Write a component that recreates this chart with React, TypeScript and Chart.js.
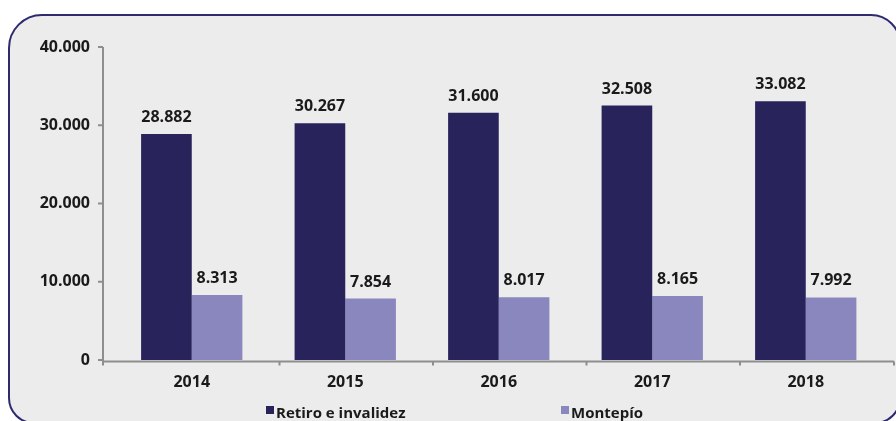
import React, { useEffect, useRef } from "react";
import { Chart, registerables } from "chart.js";

Chart.register(...registerables);

const categories = ["2014", "2015", "2016", "2017", "2018"];
const retiroValues = [28882, 30267, 31600, 32508, 33082];
const montepioValues = [8313, 7854, 8017, 8165, 7992];
const seriesNames = ["Retiro e invalidez", "Montepío"];
const seriesColors = ["#29235C", "#8A86BE"];
const yTickValues = [0, 10000, 20000, 30000, 40000];

const FONT = "'Open Sans', 'Noto Sans', sans-serif";

function fmt(v: number): string {
  return String(Math.round(v)).replace(/\B(?=(\d{3})+(?!\d))/g, ".");
}

const axisPlugin = {
  id: "customAxes",
  beforeDatasetsDraw(chart: any) {
    const { ctx, chartArea, scales } = chart;
    const x = scales.x;
    const y = scales.y;
    const axisX = chartArea.left - 12;
    const axisRight = chartArea.right + 11.5;
    const zeroY = y.getPixelForValue(0) + 1.5;
    ctx.save();
    ctx.strokeStyle = "#8E8E8E";
    ctx.lineWidth = 2;
    // y axis
    ctx.beginPath();
    ctx.moveTo(axisX, y.getPixelForValue(y.max));
    ctx.lineTo(axisX, zeroY);
    ctx.stroke();
    yTickValues.forEach((v) => {
      const py = y.getPixelForValue(v);
      ctx.beginPath();
      ctx.moveTo(axisX - 5, py);
      ctx.lineTo(axisX, py);
      ctx.stroke();
    });
    // x axis
    ctx.beginPath();
    ctx.moveTo(axisX - 1, zeroY);
    ctx.lineTo(axisRight, zeroY);
    ctx.stroke();
    const n = categories.length;
    const w = chartArea.width / n;
    const tickXs = [axisX];
    for (let i = 1; i < n; i++) tickXs.push(x.getPixelForValue(i) - w / 2 + 11);
    tickXs.push(axisRight);
    tickXs.forEach((tx) => {
      ctx.beginPath();
      ctx.moveTo(tx, zeroY);
      ctx.lineTo(tx, zeroY + 4);
      ctx.stroke();
    });
    ctx.restore();
  },
};

const labelPlugin = {
  id: "valueLabels",
  afterDatasetsDraw(chart: any) {
    const { ctx } = chart;
    ctx.save();
    ctx.font = `bold 16px ${FONT}`;
    ctx.fillStyle = "#1A1A1A";
    ctx.textAlign = "center";
    ctx.textBaseline = "alphabetic";
    chart.data.datasets.forEach((ds: any, di: number) => {
      const meta = chart.getDatasetMeta(di);
      meta.data.forEach((el: any, i: number) => {
        ctx.fillText(fmt(ds.data[i]), el.x, el.y - 12);
      });
    });
    ctx.restore();
  },
};

export default function App() {
  const canvasRef = useRef<HTMLCanvasElement | null>(null);

  useEffect(() => {
    if (!canvasRef.current) return;
    const chart = new Chart(canvasRef.current, {
      type: "bar",
      data: {
        labels: categories,
        datasets: [
          {
            label: seriesNames[0],
            data: retiroValues,
            backgroundColor: seriesColors[0],
            categoryPercentage: 0.66,
            barPercentage: 1,
          },
          {
            label: seriesNames[1],
            data: montepioValues,
            backgroundColor: seriesColors[1],
            categoryPercentage: 0.66,
            barPercentage: 1,
          },
        ],
      },
      options: {
        responsive: false,
        animation: false,
        layout: { padding: { top: 47, right: 13.5, left: 0, bottom: 0 } },
        plugins: {
          legend: { display: false },
          tooltip: { enabled: false },
        },
        scales: {
          x: {
            grid: { display: false, drawTicks: false },
            border: { display: false },
            ticks: {
              color: "#1A1A1A",
              font: { family: FONT, size: 16, weight: "bold" },
              padding: 13,
            },
            afterFit: (scale: any) => {
              scale.height = 61;
            },
          },
          y: {
            min: 0,
            max: 40000,
            grid: { display: false, drawTicks: false },
            border: { display: false },
            ticks: {
              stepSize: 10000,
              color: "#1A1A1A",
              font: { family: FONT, size: 16, weight: "bold" },
              padding: 25,
              callback: (v: any) => fmt(Number(v)),
            },
            afterFit: (scale: any) => {
              scale.width = 115;
            },
          },
        },
      },
      plugins: [axisPlugin, labelPlugin],
    });
    return () => chart.destroy();
  }, []);

  return (
    <div
      style={{
        position: "fixed",
        left: 0,
        top: 0,
        width: 896,
        height: 421,
        overflow: "hidden",
        background: "#FFFFFF",
      }}
    >
      <div
        style={{
          position: "absolute",
          left: 8,
          top: 14,
          width: 893,
          height: 410,
          boxSizing: "border-box",
          border: "2.5px solid #2D2A6E",
          borderRadius: "34px 30px 26px 26px",
          background: "#ECECEC",
        }}
      />
      <canvas
        ref={canvasRef}
        width={896}
        height={421}
        style={{ position: "absolute", left: 0, top: 0 }}
      />
      <div
        style={{
          position: "absolute",
          left: 266,
          top: 402,
          display: "flex",
          fontFamily: FONT,
          fontWeight: 700,
          fontSize: 15,
          lineHeight: "20px",
          color: "#1A1A1A",
        }}
      >
        {seriesNames.map((name, i) => (
          <div
            key={name}
            style={{
              width: 295,
              display: "flex",
              alignItems: "flex-start",
              height: 20,
              whiteSpace: "nowrap",
            }}
          >
            <span
              style={{
                display: "inline-block",
                width: 8,
                height: 8,
                marginTop: 4,
                background: seriesColors[i],
                marginRight: 2,
              }}
            />
            <span>{name}</span>
          </div>
        ))}
      </div>
    </div>
  );
}
